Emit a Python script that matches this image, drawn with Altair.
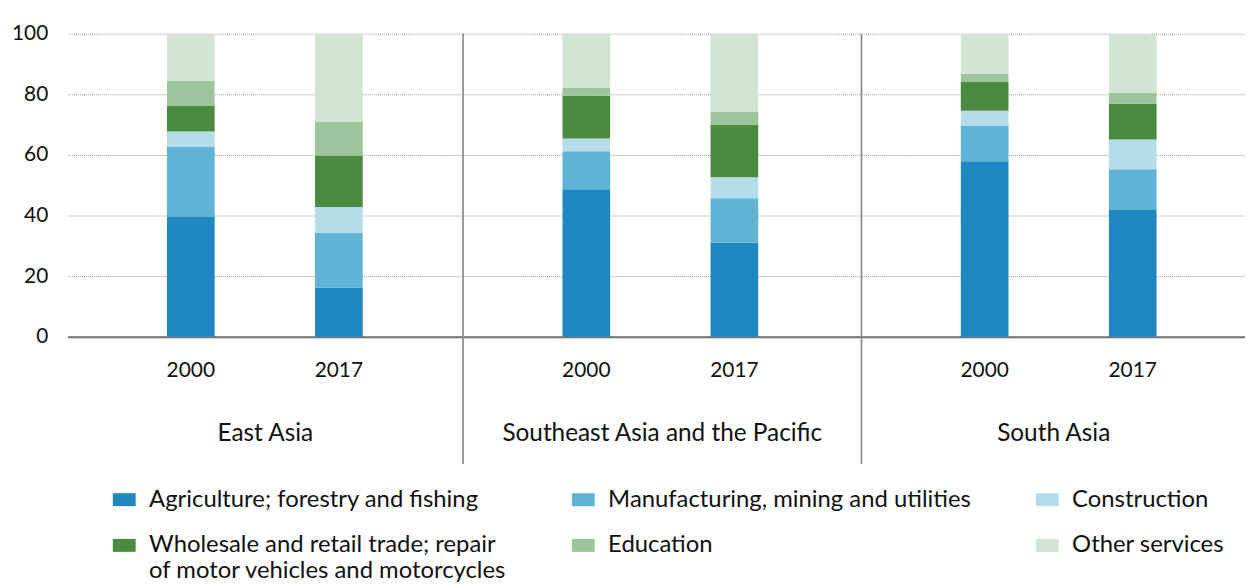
import altair as alt
import pandas as pd

regions = ["East Asia", "Southeast Asia and the Pacific", "South Asia"]
years = ["2000", "2017"]
sectors = [
    "Agriculture; forestry and fishing",
    "Manufacturing, mining and utilities",
    "Construction",
    "Wholesale and retail trade; repair\nof motor vehicles and motorcycles",
    "Education",
    "Other services",
]
colors = ["#1f88c2", "#5eb3d6", "#b5dcea", "#4a8b3f", "#9cc59b", "#d2e4d3"]

# order of values: EA 2000, EA 2017, SEA 2000, SEA 2017, SA 2000, SA 2017
agriculture = [39.5, 16.2, 48.7, 31.0, 57.9, 41.8]
manufacturing = [23.3, 18.0, 12.5, 14.7, 11.8, 13.5]
construction = [4.9, 8.6, 4.2, 6.9, 4.9, 9.8]
wholesale = [8.6, 17.0, 14.1, 17.4, 9.5, 11.8]
education = [8.2, 11.2, 2.7, 4.3, 2.7, 3.6]
other = [15.5, 29.0, 17.8, 25.7, 13.2, 19.1]

series = [agriculture, manufacturing, construction, wholesale, education, other]

rows = []
for si, (sec, vals) in enumerate(zip(sectors, series)):
    k = 0
    for r in regions:
        for y in years:
            rows.append({"region": r, "year": y, "sector": sec, "idx": si, "value": vals[k]})
            k += 1
df = pd.DataFrame(rows)

FONT = "Lato"
FS_NUM = 21
FS_TXT = 24.5
FS_LEG = 24

panel_widths = [397, 400, 386]
pad_outer = [0.671, 0.681, 0.634]
aligns = [0.5, 0.493, 0.529]

color_enc = alt.Color(
    "sector:N",
    scale=alt.Scale(domain=sectors, range=colors),
    legend=alt.Legend(
        title=None,
        orient="none",
        legendX=45,
        legendY=457,
        direction="horizontal",
        columns=3,
        columnPadding=64,
        rowPadding=22,
        symbolType="M-1,-0.565H1V0.565H-1Z",
        symbolSize=529,
        symbolStrokeWidth=0,
        symbolOpacity=1,
        labelOffset=13,
        labelFont=FONT,
        labelFontSize=FS_LEG,
        labelColor="#111111",
        labelLimit=600,
        labelExpr="split(datum.label, '\\n')",
    ),
)

panels = []
for i, r in enumerate(regions):
    sub = df[df["region"] == r]
    first = i == 0
    bars = (
        alt.Chart(sub)
        .mark_bar()
        .encode(
            x=alt.X(
                "year:N",
                sort=years,
                scale=alt.Scale(paddingInner=0.678, paddingOuter=pad_outer[i], align=aligns[i]),
                axis=alt.Axis(
                    title=r,
                    labelAngle=0,
                    ticks=False,
                    labelPadding=23,
                    labelFontSize=FS_NUM,
                    titlePadding=41,
                    titleFontSize=FS_TXT,
                    domainColor="#6f6f6f",
                    domainWidth=2,
                ),
            ),
            y=alt.Y(
                "value:Q",
                stack="zero",
                scale=alt.Scale(domain=[0, 100], nice=False),
                axis=alt.Axis(
                    values=[0, 20, 40, 60, 80, 100],
                    title=None,
                    labels=first,
                    ticks=False,
                    domain=False,
                    labelPadding=20,
                    labelFontSize=FS_NUM,
                    grid=True,
                    gridColor="#9a9a9a",
                    gridDash=[1, 1],
                    gridWidth=1,
                ),
            ),
            color=color_enc,
            order=alt.Order("idx:Q", sort="ascending"),
        )
        .properties(width=panel_widths[i], height=305)
    )
    if first:
        panels.append(bars)
    else:
        sep = (
            alt.Chart(pd.DataFrame({"s": [0]}))
            .mark_rule(color="#858585", strokeWidth=1.6)
            .encode(x=alt.value(0), y=alt.value(0), y2=alt.value(433))
        )
        panels.append(alt.layer(bars, sep))

chart = (
    alt.hconcat(*panels, spacing=0)
    .properties(padding={"left": 3, "top": 13, "right": 0, "bottom": 0})
    .configure_view(stroke=None)
    .configure_axis(
        labelFont=FONT,
        labelColor="#111111",
        titleFont=FONT,
        titleFontWeight="normal",
        titleColor="#111111",
    )
    .configure_legend(padding=0)
)

chart.save("out.html", embed_options={"renderer": "svg", "actions": False})
